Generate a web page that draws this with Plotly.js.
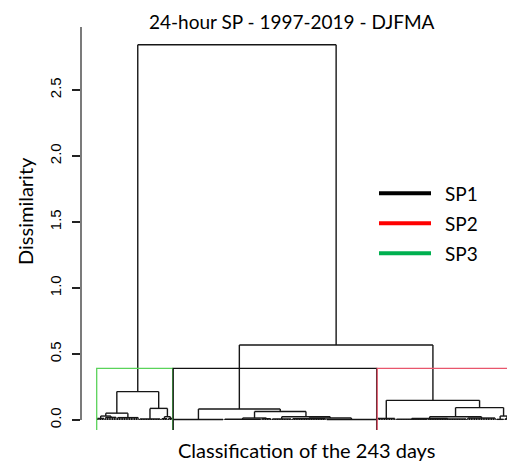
<!DOCTYPE html>
<html><head><meta charset="utf-8">
<script src="https://cdn.plot.ly/plotly-3.0.1.min.js"></script>
<style>html,body{margin:0;padding:0;background:#fff}#chart{width:507px;height:467px}</style>
</head><body><div id="chart"></div>
<script>
// ---- data ----
// contiguous runs of days along the dendrogram order, with the level at which each run joins
const groupSizes   = [5, 7, 13, 13, 4, 3,   30, 22, 6, 12, 20, 30,   11, 19, 23, 17, 5, 3];
const groupHeights = [0.012, 0.02, 0.018, 0.008, 0.01, 0.012,
                      0.004, 0.006, 0.01, 0.008, 0.01, 0.004,
                      0.012, 0.006, 0.008, 0.015, 0.005, 0.01];
// hclust-style merges: negative = leaf run (1-based), positive = earlier merge (1-based)
const mergeLeft   = [-1, 1, -5, -4, 2, -8, -11, -10, 6, -7, -14, 11, -17, 12, -13, 10, 5];
const mergeRight  = [-2, -3, -6, 3, 4, -9, -12, 7, 8, 9, -15, -16, -18, 13, 14, 15, 16];
const mergeHeight = [0.03, 0.052, 0.025, 0.088, 0.215, 0.015, 0.015, 0.025, 0.064, 0.083,
                     0.012, 0.025, 0.03, 0.094, 0.149, 0.568, 2.843];
// cut into k = 3 clusters (dendrogram order)
const clusterNames  = ["SP3", "SP1", "SP2"];
const clusterSizes  = [45, 120, 78];
const clusterColors = ["#5ad35a", "#111111", "#e8566c"];
// legend
const legendNames  = ["SP1", "SP2", "SP3"];
const legendColors = ["#000000", "#ff0000", "#00b050"];
// axis
const yTickVals = [0, 0.5, 1, 1.5, 2, 2.5];
const yTickText = ["0.0", "0.5", "1.0", "1.5", "2.0", "2.5"];
const titleText = "24-hour SP - 1997-2019 - DJFMA";
const xTitleText = "Classification of the 243 days";
const yTitleText = "Dissimilarity";

// ---- layout geometry (pixels) ----
const W = 507, H = 467;
const M = {l: 81, r: 0, t: 27, b: 37};
const plotW = W - M.l - M.r, plotH = H - M.t - M.b;
const pxPerDay = 1.70, day0px = 95.58;          // x pixel of "day 0"
const yZeroPx = 420, pxPerUnit = 132;           // y pixel of 0 dissimilarity
const xRange = [(M.l - day0px) / pxPerDay, (W - M.r - day0px) / pxPerDay];
const yRange = [(yZeroPx - (H - M.b)) / pxPerUnit, (yZeroPx - M.t) / pxPerUnit];
const px2paperX = p => (p - M.l) / plotW;
const px2paperY = p => (H - M.b - p) / plotH;

// ---- build dendrogram segments ----
const dx = [], dy = [];
function seg(x0, y0, x1, y1) { dx.push(x0, x1, null); dy.push(y0, y1, null); }
const groupNode = [];
let start = 1;
groupSizes.forEach((n, i) => {
  const end = start + n - 1, h = groupHeights[i];
  if (n > 1) {
    seg(start, h, end, h);
    for (let d = start; d <= end; d++) seg(d, 0, d, h);
    groupNode.push({x: (start + end) / 2, h: h});
  } else {
    groupNode.push({x: start, h: 0});
  }
  start = end + 1;
});
const mergeNode = [];
const nodeOf = id => id < 0 ? groupNode[-id - 1] : mergeNode[id - 1];
mergeHeight.forEach((hm, i) => {
  const a = nodeOf(mergeLeft[i]), b = nodeOf(mergeRight[i]);
  seg(a.x, a.h, a.x, hm);
  seg(a.x, hm, b.x, hm);
  seg(b.x, hm, b.x, b.h);
  mergeNode.push({x: (a.x + b.x) / 2, h: hm});
});

const traces = [{
  type: "scatter", mode: "lines", x: dx, y: dy, connectgaps: false,
  line: {color: "#161616", width: 1.4}, hoverinfo: "skip", showlegend: false
}];

// rect.hclust style boxes (k = 3): top = mean of 2nd and 3rd highest merges
const sortedH = mergeHeight.slice().sort((a, b) => b - a);
const k = clusterSizes.length;
const rectTop = (sortedH[k - 2] + sortedH[k - 1]) / 2;
let cum = 0;
clusterSizes.forEach((n, i) => {
  const left = cum + 0.66, right = cum + n + 0.33;
  traces.push({
    type: "scatter", mode: "lines", name: clusterNames[i],
    x: [left, left, right, right], y: [yRange[0], rectTop, rectTop, yRange[0]],
    line: {color: clusterColors[i], width: 1.3}, hoverinfo: "skip", showlegend: false
  });
  cum += n;
});

// ---- legend (drawn with shapes + text) ----
const shapes = [{
  type: "line", xref: "paper", yref: "y", x0: 0, x1: 0, y0: 0, y1: yRange[1],
  line: {color: "#222", width: 1.2}
}];
const annotations = [];
const legTop = 193.3, legStep = 30;
legendNames.forEach((nm, i) => {
  const yy = px2paperY(legTop + i * legStep);
  shapes.push({type: "line", xref: "paper", yref: "paper",
    x0: px2paperX(379), x1: px2paperX(431), y0: yy, y1: yy,
    line: {color: legendColors[i], width: 4}});
  annotations.push({xref: "paper", yref: "paper", x: px2paperX(443), y: yy,
    xanchor: "left", yanchor: "middle", showarrow: false, text: nm,
    font: {family: "Lato, 'Open Sans', sans-serif", size: 19, color: "#000"}});
});
annotations.push({xref: "paper", yref: "paper", x: px2paperX(306.5), y: px2paperY(450),
  xanchor: "center", yanchor: "middle", showarrow: false, text: xTitleText,
  font: {family: "Lato, sans-serif", size: 20, color: "#000"}});
annotations.push({xref: "paper", yref: "paper", x: px2paperX(25), y: px2paperY(211),
  xanchor: "center", yanchor: "middle", showarrow: false, text: yTitleText, textangle: -90,
  font: {family: "Lato, sans-serif", size: 20, color: "#000"}});

const layout = {
  width: W, height: H, margin: M,
  paper_bgcolor: "#fff", plot_bgcolor: "#fff",
  showlegend: false,
  title: {text: titleText, font: {family: "Lato, sans-serif", size: 19, color: "#000"},
    xref: "paper", x: px2paperX(291.7), xanchor: "center",
    yref: "container", y: 1 - 22.7 / H, yanchor: "middle"},
  xaxis: {range: xRange, visible: false, fixedrange: true},
  yaxis: {range: yRange, showgrid: false, zeroline: false, showline: false,
    tickmode: "array", tickvals: yTickVals, ticktext: yTickText,
    ticks: "outside", ticklen: 8, tickwidth: 1.2, tickcolor: "#222", tickangle: -90,
    ticklabelstandoff: 5,
    tickfont: {family: "'Liberation Sans', Arial, sans-serif", size: 15, color: "#000"},
    fixedrange: true},
  shapes: shapes, annotations: annotations
};
Plotly.newPlot("chart", traces, layout, {staticPlot: true, displayModeBar: false});
</script></body></html>
